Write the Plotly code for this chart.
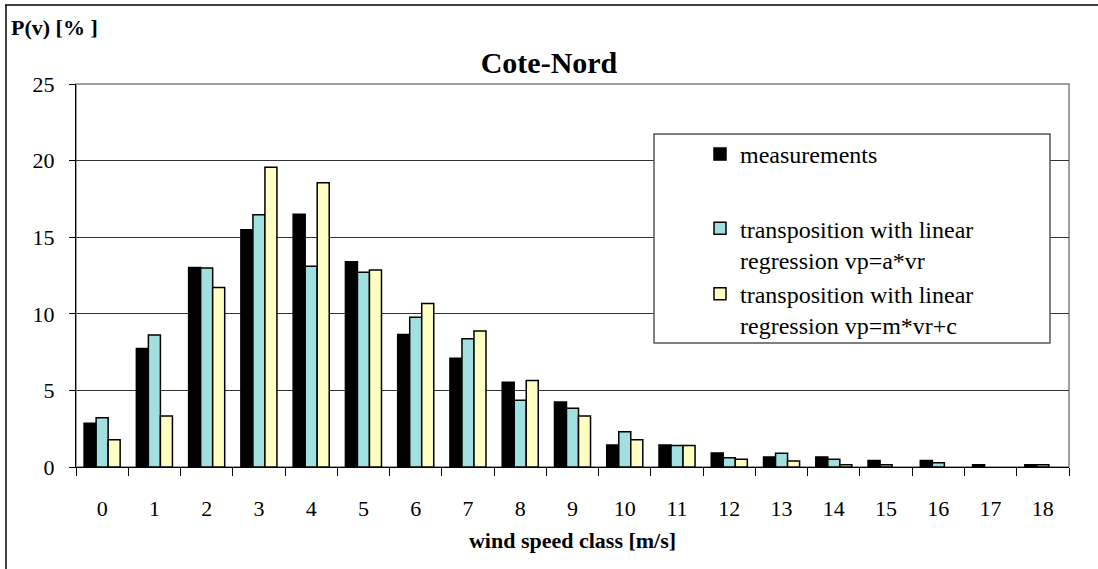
import plotly.graph_objects as go

categories = [str(i) for i in range(19)]
measurements = [2.85, 7.73, 13.03, 15.49, 16.49, 13.4, 8.65, 7.1, 5.54, 4.25,
                1.43, 1.43, 0.92, 0.66, 0.66, 0.42, 0.42, 0.15, 0.15]
trans_a = [3.22, 8.61, 12.99, 16.47, 13.1, 12.72, 9.77, 8.37, 4.36, 3.84,
           2.3, 1.4, 0.61, 0.9, 0.5, 0.15, 0.28, 0, 0.15]
trans_mc = [1.78, 3.33, 11.72, 19.56, 18.55, 12.86, 10.67, 8.87, 5.65, 3.33,
            1.78, 1.4, 0.5, 0.39, 0.15, 0, 0, 0, 0]
y_ticks = [0, 5, 10, 15, 20, 25]

FONT = "Liberation Serif"
W, H = 1098, 569
L, R, T, B = 76, 29, 84, 102
pw, ph = W - L - R, H - T - B


def px(x):
    return (x - L) / pw


def py(y):
    return (H - B - y) / ph


def outline(vals):
    return [1.5 if v > 0 else 0 for v in vals]


fig = go.Figure()
fig.add_trace(go.Bar(x=categories, y=measurements, name="measurements",
                     marker=dict(color="black", line=dict(color="black", width=outline(measurements))),
                     legendgroup="g1"))
fig.add_trace(go.Bar(x=categories, y=trans_a,
                     name="transposition with linear<br>regression vp=a*vr",
                     marker=dict(color="#A0E0E0", line=dict(color="black", width=outline(trans_a))),
                     legendgroup="g2"))
fig.add_trace(go.Bar(x=categories, y=trans_mc,
                     name="transposition with linear<br>regression vp=m*vr+c",
                     marker=dict(color="#FFFFC4", line=dict(color="black", width=outline(trans_mc))),
                     legendgroup="g2"))

fig.update_layout(
    width=W, height=H,
    margin=dict(l=L, r=R, t=T, b=B),
    paper_bgcolor="white", plot_bgcolor="white",
    font=dict(family=FONT, size=22, color="black"),
    barmode="group", bargap=0.31, bargroupgap=0,
    title=dict(text="<b>Cote-Nord</b>", x=0.5, xref="container", xanchor="center",
               y=1 - 62 / H, yref="container", yanchor="middle",
               font=dict(family=FONT, size=30)),
    showlegend=True,
    legend=dict(x=px(700), y=py(132), xanchor="left", yanchor="top",
                bgcolor="rgba(0,0,0,0)", borderwidth=0, valign="top",
                traceorder="grouped", tracegroupgap=40,
                font=dict(family=FONT, size=24)),
    xaxis=dict(type="category", showgrid=False, showline=True, linecolor="black",
               linewidth=1, ticks="outside", tickson="boundaries", ticklen=8,
               tickcolor="black", ticklabelstandoff=22,
               title=dict(text="<b>wind speed class [m/s]</b>", standoff=12,
                          font=dict(family=FONT, size=22))),
    yaxis=dict(range=[0, 25], tickvals=y_ticks, showgrid=True, gridcolor="#333333",
               gridwidth=1, showline=True, linecolor="black", linewidth=1,
               ticks="outside", ticklen=6, tickcolor="black", ticklabelstandoff=10,
               zeroline=False),
    shapes=[
        dict(type="rect", xref="paper", yref="paper", x0=0, x1=1, y0=0, y1=1,
             line=dict(color="#808080", width=1.5), layer="below"),
        dict(type="rect", xref="paper", yref="paper", x0=px(654), x1=px(1050),
             y0=py(343), y1=py(134), line=dict(color="#555555", width=1.5),
             fillcolor="white", layer="above"),
        dict(type="line", xref="paper", yref="paper", x0=px(6), x1=px(6),
             y0=py(5), y1=py(H + 5), line=dict(color="black", width=1.5)),
        dict(type="line", xref="paper", yref="paper", x0=px(5), x1=px(W + 5),
             y0=py(5), y1=py(5), line=dict(color="black", width=1.5)),
    ],
    annotations=[
        dict(text="<b>P(v) [% ]</b>", xref="paper", yref="paper", x=px(9), y=py(28),
             xanchor="left", yanchor="middle", showarrow=False,
             font=dict(family=FONT, size=22)),
    ],
)

fig.write_html("out.html")
